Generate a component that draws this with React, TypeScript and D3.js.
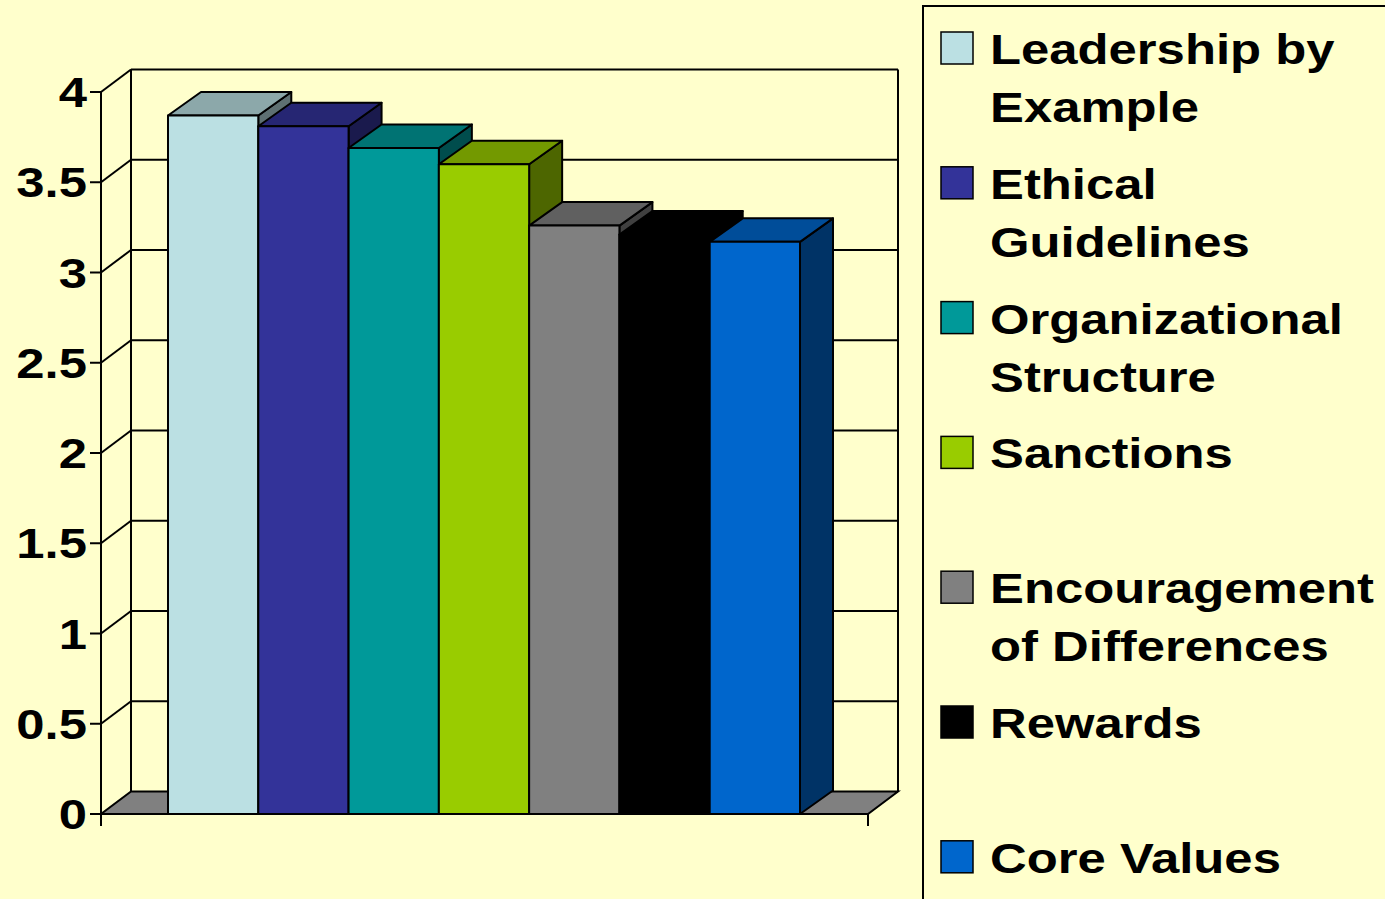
import * as d3 from 'd3';

// Series (one category, seven series)
const SERIES = [
  'Leadership by Example',
  'Ethical Guidelines',
  'Organizational Structure',
  'Sanctions',
  'Encouragement of Differences',
  'Rewards',
  'Core Values',
];
const VALUES = [3.87, 3.81, 3.69, 3.6, 3.26, 3.21, 3.17];
const COLORS = ['#BBE0E3', '#333399', '#009999', '#99CC00', '#808080', '#000000', '#0066CC'];
// legend lines, as wrapped in the original
const LEGEND_LINES = [
  ['Leadership by', 'Example'],
  ['Ethical', 'Guidelines'],
  ['Organizational', 'Structure'],
  ['Sanctions'],
  ['Encouragement', 'of Differences'],
  ['Rewards'],
  ['Core Values'],
];
const Y_TICKS = [0, 0.5, 1, 1.5, 2, 2.5, 3, 3.5, 4];

const W = 1385;
const H = 899;
const BG = '#FFFFCC';
const FONT = '"Liberation Sans", Arial, sans-serif';
const STRETCH = 1.21; // the original slide is stretched sideways

// plot frame
const x0 = 101;
const x1 = 868;
const wallDx = 30;
const wallDy = 22.5;
const barDx = 33;
const barDy = 23.5;

const shade = (c: string, k: number) => {
  const rgb = d3.rgb(c);
  return d3.rgb(rgb.r * k, rgb.g * k, rgb.b * k).formatHex();
};

export default function App() {
  const y = d3.scaleLinear().domain([0, 4]).range([814, 92]);
  const x = d3.scaleBand<string>().domain(SERIES).range([168, 800]).padding(0);
  const base = y(0);

  const poly = (pts: [number, number][]) => pts.map((p) => p.join(',')).join(' ');

  return (
    <svg width={W} height={H} style={{ position: 'absolute', left: 0, top: 0 }}>
      <rect width={W} height={H} fill={BG} />

      {/* back wall + side wall gridlines */}
      <g stroke="#000" strokeWidth={2} fill="none">
        {Y_TICKS.filter((t) => t > 0).map((t) => (
          <g key={t}>
            <line x1={x0} y1={y(t)} x2={x0 + wallDx} y2={y(t) - wallDy} />
            <line x1={x0 + wallDx} y1={y(t) - wallDy} x2={x1 + wallDx} y2={y(t) - wallDy} />
          </g>
        ))}
        <line x1={x0 + wallDx} y1={y(4) - wallDy} x2={x0 + wallDx} y2={base - wallDy} />
        <line x1={x1 + wallDx} y1={y(4) - wallDy} x2={x1 + wallDx} y2={base - wallDy} />
      </g>

      {/* floor */}
      <polygon
        points={poly([
          [x0, base],
          [x1, base],
          [x1 + wallDx, base - wallDy],
          [x0 + wallDx, base - wallDy],
        ])}
        fill="#808080"
        stroke="#000"
        strokeWidth={2}
      />

      {/* bars */}
      {SERIES.map((s, i) => {
        const bx = x(s)!;
        const bw = x.bandwidth();
        const top = y(VALUES[i]);
        const c = COLORS[i];
        return (
          <g key={s} stroke="#000" strokeWidth={2} strokeLinejoin="round">
            <polygon
              points={poly([
                [bx + bw, top],
                [bx + bw + barDx, top - barDy],
                [bx + bw + barDx, base - barDy],
                [bx + bw, base],
              ])}
              fill={shade(c, 0.5)}
            />
            <polygon
              points={poly([
                [bx, top],
                [bx + barDx, top - barDy],
                [bx + bw + barDx, top - barDy],
                [bx + bw, top],
              ])}
              fill={shade(c, 0.75)}
            />
            <rect x={bx} y={top} width={bw} height={base - top} fill={c} />
          </g>
        );
      })}

      {/* front axes */}
      <g stroke="#000" strokeWidth={2}>
        <line x1={x0} y1={y(4)} x2={x0} y2={base + 12} />
        <line x1={x0} y1={base} x2={x1} y2={base} />
        <line x1={x1} y1={base} x2={x1} y2={base + 12} />
        {Y_TICKS.map((t) => (
          <line key={t} x1={x0 - 11} y1={y(t)} x2={x0} y2={y(t)} />
        ))}
      </g>
      {Y_TICKS.map((t) => (
        <text
          key={t}
          transform={`translate(87,${y(t) + 15}) scale(${STRETCH},1)`}
          textAnchor="end"
          fontFamily={FONT}
          fontWeight="bold"
          fontSize={42}
          fill="#000"
        >
          {String(t)}
        </text>
      ))}

      {/* legend */}
      <rect x={923} y={6} width={500} height={950} fill="none" stroke="#000" strokeWidth={2} />
      {SERIES.map((s, i) => {
        const baseline = 64 + i * 134.8;
        return (
          <g key={s}>
            <rect x={941} y={baseline - 32} width={32} height={32} fill={COLORS[i]} stroke="#000" strokeWidth={1.5} />
            {LEGEND_LINES[i].map((line, j) => (
              <text
                key={j}
                transform={`translate(990,${baseline + j * 58}) scale(${STRETCH},1)`}
                fontFamily={FONT}
                fontWeight="bold"
                fontSize={42}
                fill="#000"
              >
                {line}
              </text>
            ))}
          </g>
        );
      })}
    </svg>
  );
}
